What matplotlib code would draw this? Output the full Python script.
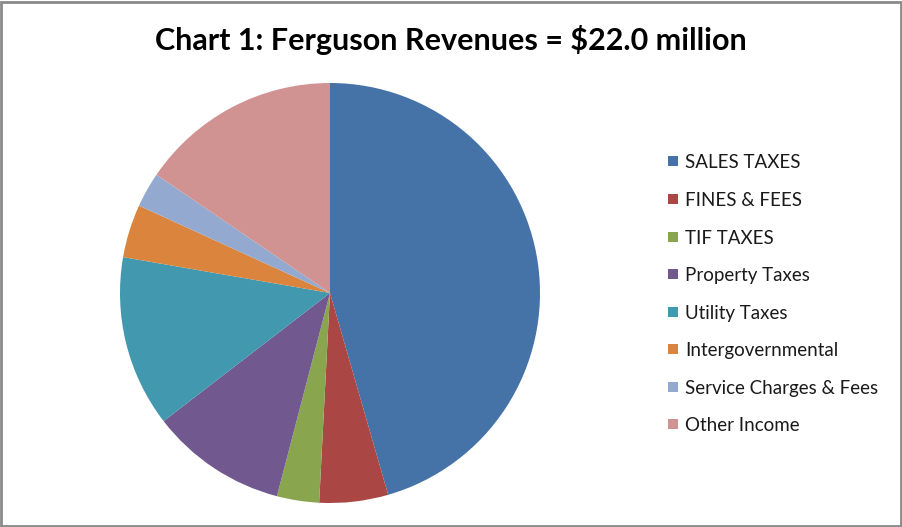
import matplotlib
matplotlib.use("Agg")
import matplotlib.pyplot as plt
from matplotlib.patches import Rectangle

categories = ["SALES TAXES", "FINES & FEES", "TIF TAXES", "Property Taxes",
              "Utility Taxes", "Intergovernmental", "Service Charges & Fees", "Other Income"]
shares = [45.6, 5.3, 3.25, 10.5, 13.2, 4.1, 2.7, 15.5]
colors = ["#4572A7", "#AA4643", "#89A54E", "#71588F",
          "#4198AF", "#DB843D", "#93A9CF", "#D19392"]
title = "Chart 1: Ferguson Revenues = $22.0 million"

W, H = 902, 527
fig = plt.figure(figsize=(W / 100, H / 100), dpi=100)
fig.patch.set_facecolor("white")

# border
fig.add_artist(Rectangle((0.0015, 0.002), 0.997, 0.995, transform=fig.transFigure,
                         fill=False, edgecolor="#8a8a8a", linewidth=2.0))

cx, cy, r = 330, 293, 210
ax = fig.add_axes([(cx - r) / W, (H - cy - r) / H, 2 * r / W, 2 * r / H])
wedges, _ = ax.pie(shares, colors=colors, startangle=90, counterclock=False,
                   radius=1.0, wedgeprops=dict(linewidth=0))
ax.set_xlim(-1, 1)
ax.set_ylim(-1, 1)
ax.set_aspect("equal")
ax.axis("off")

fig.text(451 / W, 1 - 40 / H, title, ha="center", va="center",
         fontsize=22, fontweight="bold", family=["Lato", "DejaVu Sans"])

ys = [161, 199, 237, 274, 312, 349, 387, 424]
for lab, col, y in zip(categories, colors, ys):
    fig.add_artist(Rectangle(((668) / W, 1 - (y + 5) / H), 10 / W, 10 / H,
                             transform=fig.transFigure, facecolor=col, edgecolor="none"))
    fig.text(685 / W, 1 - (y + 1.5) / H, lab, ha="left", va="center",
             fontsize=13.5, family=["Lato", "DejaVu Sans"], color="#1a1a1a")

fig.savefig("out.png", dpi=100)
